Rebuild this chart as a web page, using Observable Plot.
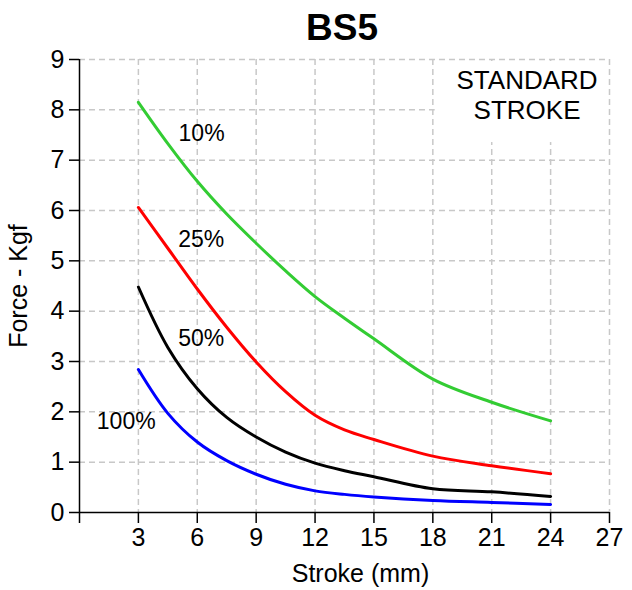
<!DOCTYPE html>
<html><head><meta charset="utf-8">
<script src="https://cdn.jsdelivr.net/npm/d3@7"></script>
<script src="https://cdn.jsdelivr.net/npm/@observablehq/plot@0.6"></script>
<style>
body{margin:0;background:#fff;font-family:Arial,"Liberation Sans",sans-serif;}
#wrap{position:relative;width:632px;height:590px;}
#title{position:absolute;left:26px;top:9px;width:632px;text-align:center;font-weight:bold;font-size:37px;line-height:37px;color:#000;}
</style></head>
<body>
<div id="wrap"><div id="title">BS5</div><div id="chart"></div></div>
<script>
const strokeX = [3, 4.5, 6, 7.5, 9, 10.5, 12, 13.5, 15, 18, 21, 24];
const force10 = [8.15, 7.33, 6.58, 5.93, 5.35, 4.8, 4.29, 3.86, 3.45, 2.65, 2.19, 1.82];
const force25 = [6.06, 5.25, 4.44, 3.68, 2.99, 2.4, 1.93, 1.64, 1.45, 1.12, 0.93, 0.77];
const force50 = [4.48, 3.28, 2.46, 1.89, 1.5, 1.2, 0.98, 0.83, 0.71, 0.47, 0.41, 0.32];
const force100 = [2.84, 1.97, 1.4, 1.03, 0.76, 0.56, 0.43, 0.36, 0.31, 0.24, 0.2, 0.16];
const seriesNames = ["10%", "25%", "50%", "100%"];
const seriesColors = ["#33cc33", "#ff0000", "#000000", "#0000ff"];
const labelX = [6.22, 6.2, 6.2, 2.38];
const labelY = [7.53, 5.42, 3.46, 1.81];
const xTicks = [0, 3, 6, 9, 12, 15, 18, 21, 24, 27];
const yTicks = [0, 1, 2, 3, 4, 5, 6, 7, 8, 9];
const noteText = ["STANDARD\nSTROKE"];

const allSeries = [force10, force25, force50, force100];
const rows = allSeries.flatMap((arr, i) => arr.map((v, j) => ({stroke: strokeX[j], force: v, series: seriesNames[i]})));
const labels = seriesNames.map((s, i) => ({x: labelX[i], y: labelY[i], text: s}));

const gridStyle = {stroke: "#c8c8c8", strokeOpacity: 1, strokeDasharray: "6,4", strokeWidth: 1.5};

const chart = Plot.plot({
  width: 632, height: 590,
  marginLeft: 79, marginRight: 23, marginTop: 59, marginBottom: 78,
  style: {fontFamily: "Arial, 'Liberation Sans', sans-serif", background: "#fff", color: "#000"},
  x: {domain: [0, 27]},
  y: {domain: [0, 9]},
  color: {domain: seriesNames, range: seriesColors},
  marks: [
    Plot.gridX(xTicks.filter(d => d > 0), gridStyle),
    Plot.gridY(yTicks.filter(d => d > 0), gridStyle),
    Plot.rect([0], {x1: 18.12, x2: 26.9, y1: 7.35, y2: 8.96, fill: "white"}),
    Plot.line(rows, {x: "stroke", y: "force", z: "series", stroke: "series", strokeWidth: 3, curve: "catmull-rom"}),
    Plot.ruleY([0], {x1: 0, x2: 27, stroke: "#000", strokeWidth: 1.5}),
    Plot.ruleX([0], {y1: 0, y2: 9, stroke: "#000", strokeWidth: 1.5}),
    Plot.axisY({ticks: yTicks, tickSize: 10, tickPadding: 5, fontSize: 25, label: null, strokeWidth: 1.5}),
    Plot.axisX({ticks: xTicks, tickFormat: d => d === 0 ? "" : d, tickSize: 11, tickPadding: 5, fontSize: 25, label: null, strokeWidth: 1.5}),
    Plot.text(labels, {x: "x", y: "y", text: "text", fontSize: 23, fill: "#000"}),
    Plot.text(noteText, {x: 22.8, y: 8.3, text: d => d, fontSize: 26, lineHeight: 1.12, fill: "#000"}),
    Plot.text(["Force - Kgf"], {frameAnchor: "left", textAnchor: "middle", lineAnchor: "middle", text: d => d, rotate: -90, dx: -61, fontSize: 25, fill: "#000"}),
    Plot.text(["Stroke (mm)"], {frameAnchor: "bottom", textAnchor: "middle", lineAnchor: "middle", text: d => d, dx: 16, dy: 61, fontSize: 25, fill: "#000"})
  ]
});
document.getElementById("chart").appendChild(chart);
</script>
</body></html>
